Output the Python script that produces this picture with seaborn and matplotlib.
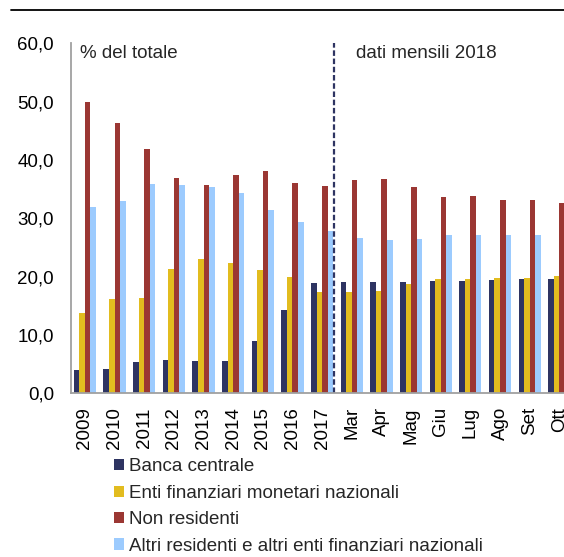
import seaborn as sns
import matplotlib.pyplot as plt
import pandas as pd
from matplotlib.lines import Line2D
from matplotlib.ticker import FuncFormatter

periodi = ['2009', '2010', '2011', '2012', '2013', '2014', '2015', '2016', '2017',
           'Mar', 'Apr', 'Mag', 'Giu', 'Lug', 'Ago', 'Set', 'Ott']
serie = ['Banca centrale', 'Enti finanziari monetari nazionali', 'Non residenti',
         'Altri residenti e altri enti finanziari nazionali']

banca_centrale = [4.0, 4.1, 5.4, 5.7, 5.6, 5.5, 8.9, 14.2, 18.9,
                  19.0, 19.0, 19.0, 19.3, 19.3, 19.5, 19.6, 19.6]
enti_monetari = [13.8, 16.2, 16.4, 21.3, 23.0, 22.3, 21.1, 19.9, 17.4,
                 17.4, 17.6, 18.8, 19.6, 19.6, 19.8, 19.8, 20.1]
non_residenti = [49.9, 46.3, 41.9, 36.9, 35.7, 37.5, 38.1, 36.1, 35.5,
                 36.6, 36.8, 35.4, 33.7, 33.8, 33.2, 33.1, 32.7]
altri_residenti = [31.9, 33.0, 35.9, 35.7, 35.4, 34.3, 31.5, 29.4, 27.9,
                   26.7, 26.3, 26.5, 27.2, 27.1, 27.1, 27.1, 27.1]

colori = ['#2E3462', '#E2BC1F', '#9B3733', '#9CCBFE']

df = pd.DataFrame({
    'periodo': periodi * 4,
    'serie': [s for s in serie for _ in periodi],
    'valore': banca_centrale + enti_monetari + non_residenti + altri_residenti,
})

sns.set_style('white')
plt.rcParams['font.family'] = ['Liberation Sans', 'DejaVu Sans']

fig = plt.figure(figsize=(5.64, 5.57), dpi=100)
ax = fig.add_axes([0.1254, 0.2939, 0.8926, 0.6284])

sns.barplot(data=df, x='periodo', y='valore', hue='serie', palette=colori,
            saturation=1, width=0.75, linewidth=0, errorbar=None, ax=ax, legend=True)

ax.set_xlim(-0.478, 16.5)
ax.set_ylim(0, 60)
ax.set_yticks(range(0, 61, 10))
ax.yaxis.set_major_formatter(FuncFormatter(lambda v, p: f'{v:.1f}'.replace('.', ',')))
ax.set_xlabel('')
ax.set_ylabel('')
ax.tick_params(axis='y', length=0, pad=12, labelsize=13.5, colors='black')
ax.tick_params(axis='x', length=0, pad=10, labelsize=13.5, labelrotation=90, colors='black')

for lato in ['top', 'right']:
    ax.spines[lato].set_visible(False)
for lato in ['left', 'bottom']:
    ax.spines[lato].set_color('#A0A0A0')
    ax.spines[lato].set_linewidth(1.3)

# separatore tra dati annuali e mensili
ax.axvline(8.41, color='#2E3462', linestyle=(0, (2.5, 1.2)), linewidth=1.6)
ax.text(-0.16, 58.3, '% del totale', fontsize=13.5, va='center', ha='left')
ax.text(9.13, 58.3, 'dati mensili 2018', fontsize=13.5, va='center', ha='left')

handles, labels = ax.get_legend_handles_labels()
ax.get_legend().remove()
fig.legend(handles, labels, loc='upper left', bbox_to_anchor=(0.202, 0.177),
           frameon=False, fontsize=13.5, handlelength=0.55, handleheight=0.55,
           handletextpad=0.25, labelspacing=0.5, borderpad=0, borderaxespad=0)

fig.add_artist(Line2D([0.02, 1.0], [1 - 9.5 / 557, 1 - 9.5 / 557],
                      transform=fig.transFigure, color='black', linewidth=1.3))

fig.savefig('out.png', dpi=100)
